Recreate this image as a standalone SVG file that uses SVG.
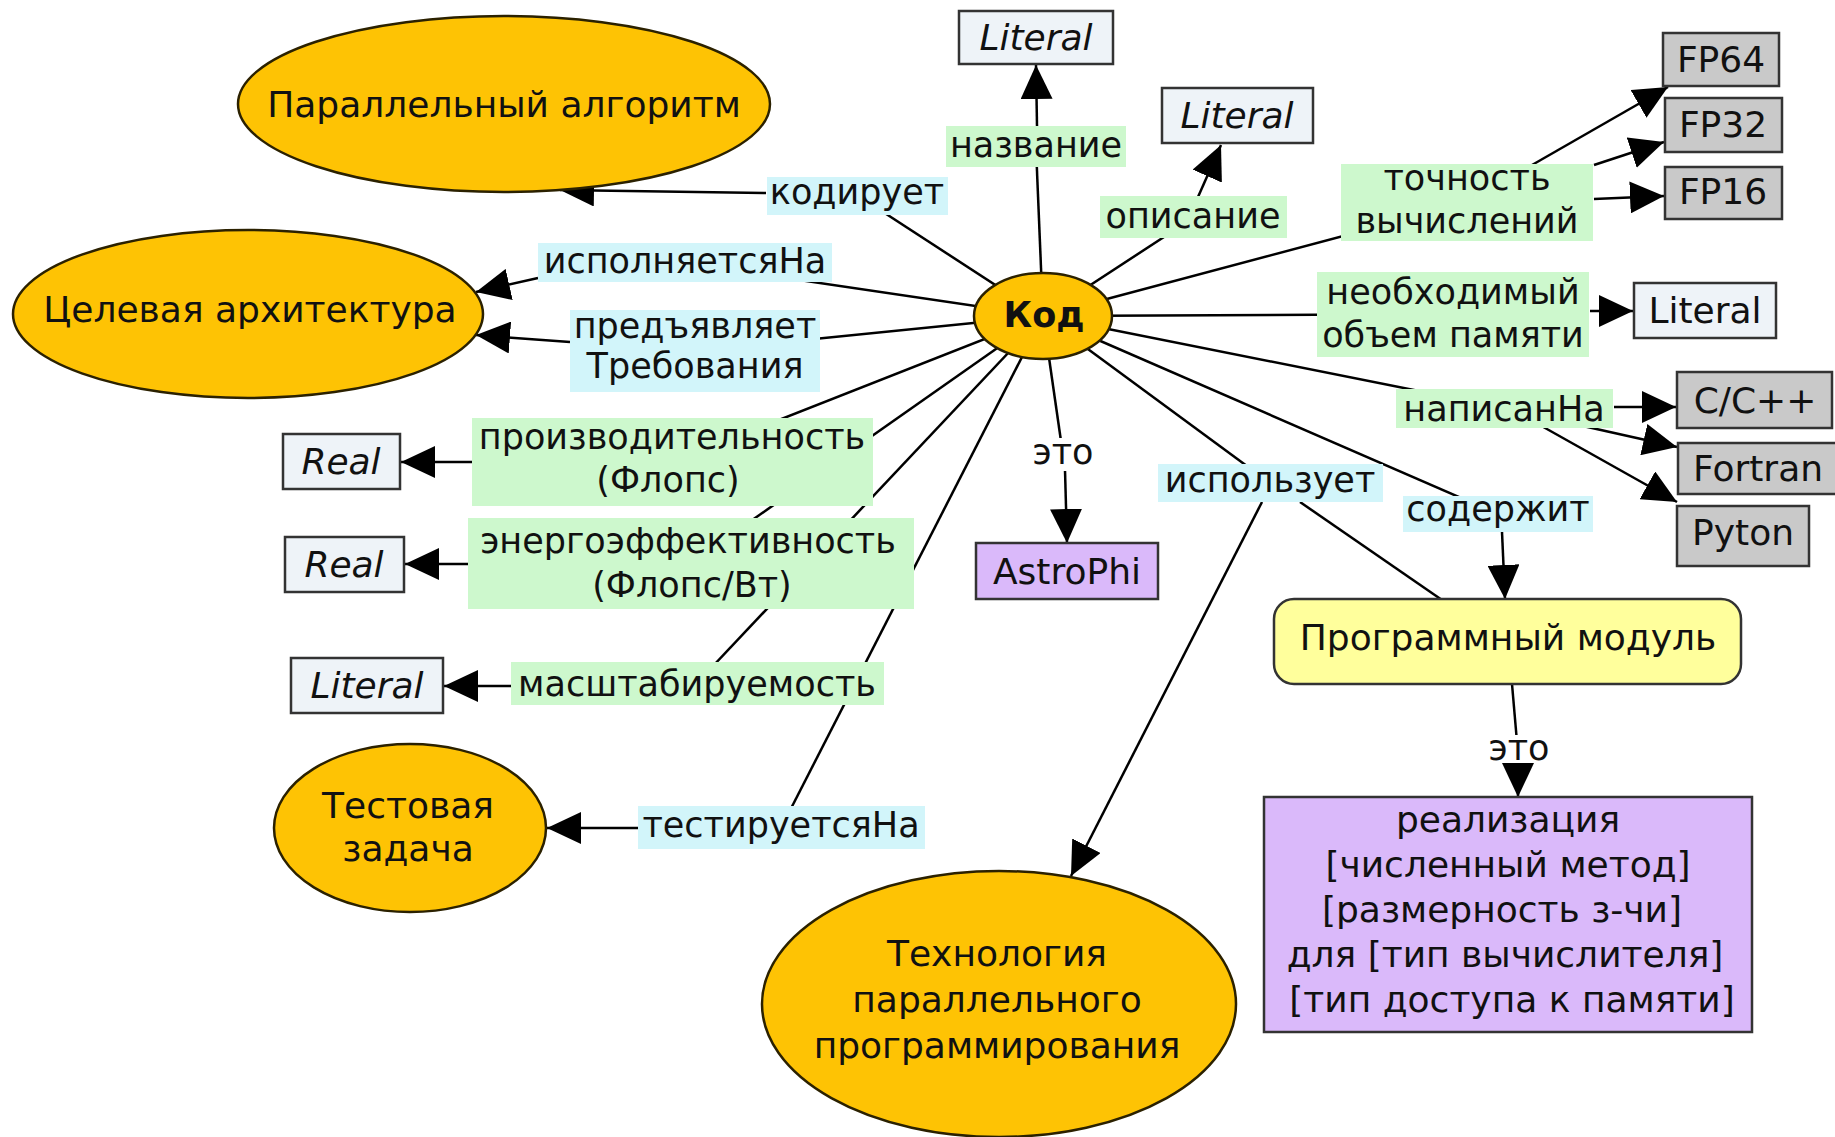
<svg xmlns="http://www.w3.org/2000/svg" width="1835" height="1137" viewBox="0 0 1835 1137">
<defs>
<style>
.t{font-family:"DejaVu Sans",Verdana,sans-serif;font-size:35px;fill:#111;text-anchor:middle}
.n{font-size:36px}
.it{font-style:italic}
.b{font-weight:bold;font-size:35px}
.c{fill:#fec304;stroke:#2b2100;stroke-width:2.5}
.lit{fill:#eef3f8;stroke:#333;stroke-width:2.5}
.gr{fill:#c9c9c9;stroke:#333;stroke-width:2.5}
.pu{fill:#dab9fa;stroke:#333;stroke-width:2.5}
.ye{fill:#ffff9c;stroke:#333;stroke-width:2.5}
.lg{fill:#cdf8cd}
.lc{fill:#d2f5fa}
.lw{fill:#fff}
.ln{stroke:#000;stroke-width:2.5;fill:none}
.ar{stroke:#000;stroke-width:2.5;fill:none;marker-end:url(#ah)}
</style>
<marker id="ah" markerUnits="userSpaceOnUse" viewBox="0 0 34 32" markerWidth="34" markerHeight="32" refX="34" refY="16" orient="auto">
<path d="M0,0 L34,16 L0,32 z" fill="#000"/>
</marker>
</defs>
<rect width="1835" height="1137" fill="#fff"/>
<g id="connectors">
<line class="ln" x1="1043" y1="316" x2="857" y2="195"/>
<line class="ln" x1="1043" y1="316" x2="1036" y2="147"/>
<line class="ln" x1="1043" y1="316" x2="1193" y2="218"/>
<line class="ln" x1="1043" y1="316" x2="1467" y2="203"/>
<line class="ln" x1="1043" y1="316" x2="1453" y2="314"/>
<line class="ln" x1="1043" y1="316" x2="1504" y2="408"/>
<line class="ln" x1="1043" y1="316" x2="1498" y2="514"/>
<line class="ln" x1="1043" y1="316" x2="1270" y2="483"/>
<line class="ln" x1="1043" y1="316" x2="1063" y2="455"/>
<line class="ln" x1="1043" y1="316" x2="781" y2="828"/>
<line class="ln" x1="1043" y1="316" x2="697" y2="683"/>
<line class="ln" x1="1043" y1="316" x2="691" y2="563"/>
<line class="ln" x1="1043" y1="316" x2="672" y2="462"/>
<line class="ln" x1="1043" y1="316" x2="695" y2="351"/>
<line class="ln" x1="1043" y1="316" x2="685" y2="263"/>
<line class="ar" x1="766" y1="193" x2="560" y2="190"/>
<line class="ar" x1="538" y1="278" x2="476" y2="292"/>
<line class="ar" x1="570" y1="342" x2="476" y2="335"/>
<line class="ar" x1="1037" y1="126" x2="1036" y2="65"/>
<line class="ar" x1="1198" y1="197" x2="1221" y2="145"/>
<line class="ar" x1="1532" y1="165" x2="1668" y2="87"/>
<line class="ar" x1="1594" y1="165" x2="1664" y2="142"/>
<line class="ar" x1="1594" y1="199" x2="1664" y2="196"/>
<line class="ar" x1="1590" y1="311" x2="1633" y2="311"/>
<line class="ar" x1="1614" y1="407" x2="1676" y2="407"/>
<line class="ar" x1="1583" y1="426" x2="1677" y2="447"/>
<line class="ar" x1="1538" y1="424" x2="1677" y2="502"/>
<line class="ar" x1="472" y1="462" x2="401" y2="462"/>
<line class="ar" x1="468" y1="564" x2="405" y2="564"/>
<line class="ar" x1="511" y1="686" x2="444" y2="686"/>
<line class="ar" x1="638" y1="828" x2="547" y2="828"/>
<line class="ar" x1="1065" y1="470" x2="1067" y2="543"/>
<line class="ar" x1="1502" y1="532" x2="1505" y2="599"/>
<line class="ar" x1="1518" y1="763" x2="1518" y2="797"/>
<line class="ar" x1="1262" y1="502" x2="1071" y2="876"/>
<line class="ln" x1="1442" y1="600" x2="1300" y2="502"/>
<line class="ln" x1="1512" y1="684" x2="1517" y2="742"/>
</g>
<g id="lbl-koduet"><rect class="lc" x="767" y="177" width="181" height="38"/><text class="t" x="857" y="204">кодирует</text></g>
<g id="lbl-nazvanie"><rect class="lg" x="946" y="126" width="180" height="41"/><text class="t" x="1036" y="157">название</text></g>
<g id="lbl-opisanie"><rect class="lg" x="1100" y="196" width="187" height="42"/><text class="t" x="1193" y="228">описание</text></g>
<g id="lbl-ispolnyaetsya"><rect class="lc" x="538" y="243" width="294" height="39"/><text class="t" x="685" y="273">исполняетсяНа</text></g>
<g id="lbl-predyavlyaet"><rect class="lc" x="570" y="310" width="250" height="82"/><text class="t" x="695" y="338">предъявляет</text><text class="t" x="695" y="378">Требования</text></g>
<g id="lbl-tochnost"><rect class="lg" x="1341" y="164" width="252" height="77"/><text class="t" x="1467" y="190">точность</text><text class="t" x="1467" y="233">вычислений</text></g>
<g id="lbl-pamyat"><rect class="lg" x="1317" y="272" width="272" height="85"/><text class="t" x="1453" y="304">необходимый</text><text class="t" x="1453" y="347">объем памяти</text></g>
<g id="lbl-napisan"><rect class="lg" x="1396" y="389" width="217" height="39"/><text class="t" x="1504" y="421">написанНа</text></g>
<g id="lbl-proizv"><rect class="lg" x="472" y="418" width="401" height="88"/><text class="t" x="672" y="449">производительность</text><text class="t" x="668" y="492">(Флопс)</text></g>
<g id="lbl-energo"><rect class="lg" x="468" y="518" width="446" height="91"/><text class="t" x="688" y="553">энергоэффективность</text><text class="t" x="692" y="597">(Флопс/Вт)</text></g>
<g id="lbl-masshtab"><rect class="lg" x="511" y="662" width="373" height="43"/><text class="t" x="697" y="696">масштабируемость</text></g>
<g id="lbl-test"><rect class="lc" x="638" y="806" width="287" height="43"/><text class="t" x="781" y="837">тестируетсяНа</text></g>
<g id="lbl-ispolzuet"><rect class="lc" x="1158" y="464" width="225" height="38"/><text class="t" x="1270" y="492">использует</text></g>
<g id="lbl-soderzhit"><rect class="lc" x="1403" y="496" width="190" height="36"/><text class="t" x="1498" y="521">содержит</text></g>
<g id="lbl-eto1"><rect class="lw" x="1033" y="438" width="60" height="33"/><text class="t" x="1063" y="464">это</text></g>
<g id="lbl-eto2"><rect class="lw" x="1489" y="735" width="60" height="28"/><text class="t" x="1519" y="760">это</text></g>
<g id="node-parallel"><ellipse class="c" cx="504" cy="104" rx="266" ry="88"/><text class="t n" x="504" y="117">Параллельный алгоритм</text></g>
<g id="node-target"><ellipse class="c" cx="248" cy="314" rx="235" ry="84"/><text class="t n" x="250" y="322">Целевая архитектура</text></g>
<g id="node-kod"><ellipse class="c" cx="1043" cy="316" rx="69" ry="43"/><text class="t b" x="1044" y="327">Код</text></g>
<g id="node-test"><ellipse class="c" cx="410" cy="828" rx="136" ry="84"/><text class="t n" x="408" y="818">Тестовая</text><text class="t n" x="408" y="861">задача</text></g>
<g id="node-tech"><ellipse class="c" cx="999" cy="1004" rx="237" ry="133"/><text class="t n" x="997" y="966">Технология</text><text class="t n" x="997" y="1012">параллельного</text><text class="t n" x="997" y="1058">программирования</text></g>
<g id="node-lit1"><rect class="lit" x="959" y="11" width="154" height="53"/><text class="t n it" x="1036" y="50">Literal</text></g>
<g id="node-lit2"><rect class="lit" x="1162" y="88" width="151" height="55"/><text class="t n it" x="1237" y="128">Literal</text></g>
<g id="node-fp64"><rect class="gr" x="1663" y="33" width="116" height="53"/><text class="t n" x="1721" y="72">FP64</text></g>
<g id="node-fp32"><rect class="gr" x="1665" y="98" width="117" height="54"/><text class="t n" x="1723" y="137">FP32</text></g>
<g id="node-fp16"><rect class="gr" x="1665" y="167" width="117" height="52"/><text class="t n" x="1723" y="204">FP16</text></g>
<g id="node-lit3"><rect class="lit" x="1634" y="283" width="142" height="55"/><text class="t n" x="1705" y="323">Literal</text></g>
<g id="node-cpp"><rect class="gr" x="1677" y="372" width="155" height="56"/><text class="t n" x="1755" y="413">C/C++</text></g>
<g id="node-fortran"><rect class="gr" x="1678" y="443" width="160" height="51"/><text class="t n" x="1758" y="481">Fortran</text></g>
<g id="node-pyton"><rect class="gr" x="1677" y="506" width="132" height="60"/><text class="t n" x="1743" y="545">Pyton</text></g>
<g id="node-real1"><rect class="lit" x="283" y="434" width="117" height="55"/><text class="t n it" x="341" y="474">Real</text></g>
<g id="node-real2"><rect class="lit" x="285" y="537" width="119" height="55"/><text class="t n it" x="344" y="577">Real</text></g>
<g id="node-lit4"><rect class="lit" x="291" y="658" width="152" height="55"/><text class="t n it" x="367" y="698">Literal</text></g>
<g id="node-astrophi"><rect class="pu" x="976" y="543" width="182" height="56"/><text class="t n" x="1067" y="584">AstroPhi</text></g>
<g id="node-module"><rect class="ye" x="1274" y="599" width="467" height="85" rx="20" ry="20"/><text class="t n" x="1508" y="650">Программный модуль</text></g>
<g id="node-realiz"><rect class="pu" x="1264" y="797" width="488" height="235"/>
<text class="t n" x="1508" y="832">реализация</text>
<text class="t n" x="1508" y="877">[численный метод]</text>
<text class="t n" x="1502" y="922">[размерность з-чи]</text>
<text class="t n" x="1505" y="967">для [тип вычислителя]</text>
<text class="t n" x="1512" y="1012">[тип доступа к памяти]</text>
</g>
</svg>
